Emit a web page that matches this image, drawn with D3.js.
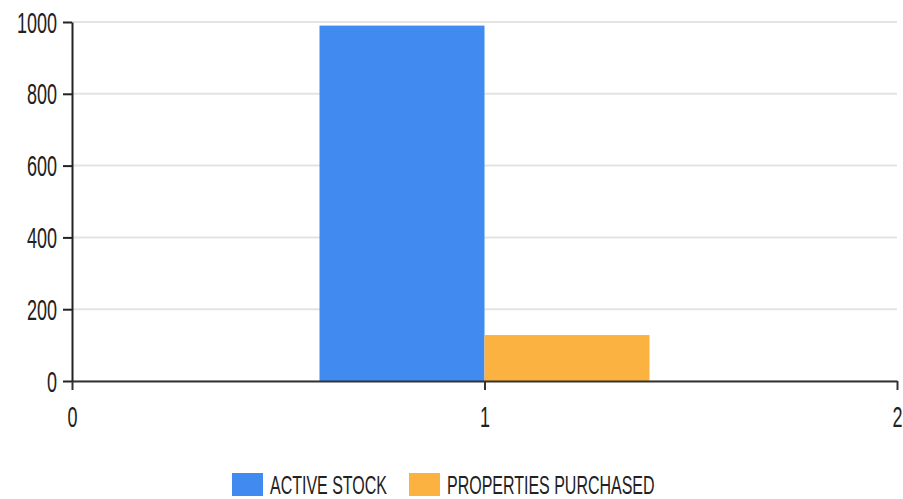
<!DOCTYPE html>
<html>
<head>
<meta charset="utf-8">
<script src="https://cdn.jsdelivr.net/npm/d3@7"></script>
<style>
  body { margin: 0; background: #fff; }
  text { font-family: "Liberation Sans", Arial, sans-serif; fill: #222; }
</style>
</head>
<body>
<div id="container"></div>
<script>
/* DATA */
const categories = [1];
const seriesNames = ["ACTIVE STOCK", "PROPERTIES PURCHASED"];
const activeStock = [990];
const propertiesPurchased = [128];
const yTicks = [0, 200, 400, 600, 800, 1000];
const xTicks = [0, 1, 2];

/* CONSTANTS */
const width = 903,
  height = 499,
  margin = { top: 22, bottom: 118, left: 72, right: 6 },
  stretch = 1.6,
  colors = ["#418bf0", "#fbb240"];

const rows = categories.map((c, i) => ({ cat: c, values: [activeStock[i], propertiesPurchased[i]] }));

/* SCALES */
const xScale = d3.scaleLinear()
  .domain([0, 2])
  .range([margin.left, width - margin.right]);

const yScale = d3.scaleLinear()
  .domain([0, 1000])
  .range([height - margin.bottom, margin.top]);

const barWidth = 0.4; // in x units

/* SVG */
const svg = d3.select("#container")
  .append("svg")
  .attr("width", width)
  .attr("height", height);

// gridlines
svg.append("g")
  .selectAll("line")
  .data(yTicks)
  .join("line")
  .attr("x1", margin.left)
  .attr("x2", width - margin.right)
  .attr("y1", d => yScale(d))
  .attr("y2", d => yScale(d))
  .attr("stroke", "#e3e3e3")
  .attr("stroke-width", 2);

// bars
const groups = svg.append("g")
  .selectAll("g")
  .data(rows)
  .join("g");

groups.selectAll("rect")
  .data(d => d.values.map((v, j) => ({ cat: d.cat, v, j })))
  .join("rect")
  .attr("x", d => xScale(d.cat - barWidth + d.j * barWidth))
  .attr("width", d => xScale(d.cat + barWidth) - xScale(d.cat))
  .attr("y", d => yScale(d.v))
  .attr("height", d => yScale(0) - yScale(d.v))
  .attr("fill", d => colors[d.j]);

// axes
const yAxis = d3.axisLeft(yScale).tickValues(yTicks).tickFormat(d3.format("d")).tickSize(9).tickSizeOuter(0);
const yG = svg.append("g")
  .attr("transform", `translate(${margin.left},0)`)
  .call(yAxis);
yG.select(".domain").attr("stroke", "#222").attr("stroke-width", 2);
yG.selectAll(".tick line").attr("stroke", "#222").attr("stroke-width", 2);
yG.selectAll(".tick text")
  .attr("x", null).attr("dy", "0.35em")
  .attr("font-size", 18)
  .attr("fill", "#222")
  .attr("transform", `translate(-15,0) scale(1,${stretch})`);

const xAxis = d3.axisBottom(xScale).tickValues(xTicks).tickFormat(d3.format("d")).tickSize(9).tickSizeOuter(0);
const xG = svg.append("g")
  .attr("transform", `translate(0,${yScale(0)})`)
  .call(xAxis);
xG.select(".domain").attr("stroke", "#333").attr("stroke-width", 2);
xG.selectAll(".tick line").attr("stroke", "#333").attr("stroke-width", 2);
xG.selectAll(".tick text")
  .attr("y", null).attr("dy", null)
  .attr("font-size", 18)
  .attr("fill", "#222")
  .attr("transform", `translate(0,46) scale(1,${stretch})`);

// legend
const legendX = [232, 409];
const legend = svg.append("g")
  .selectAll("g")
  .data(seriesNames)
  .join("g")
  .attr("transform", (d, i) => `translate(${legendX[i]},473)`);

legend.append("rect")
  .attr("width", 31)
  .attr("height", 23)
  .attr("fill", (d, i) => colors[i]);

legend.append("text")
  .attr("font-size", 16)
  .attr("transform", `translate(38,21) scale(1,${stretch})`)
  .text(d => d);
</script>
</body>
</html>
